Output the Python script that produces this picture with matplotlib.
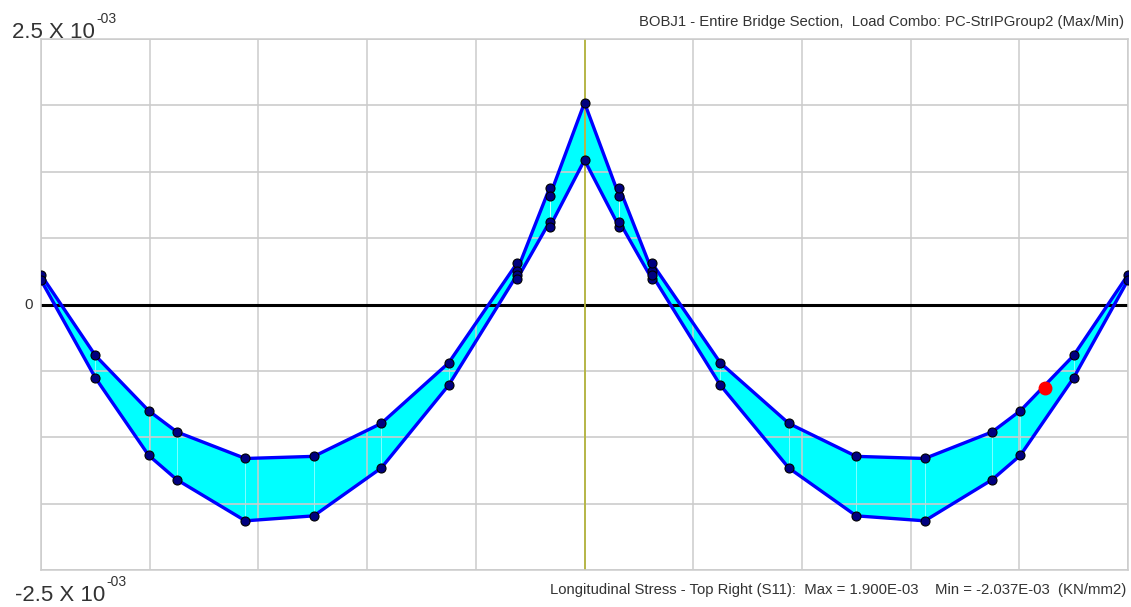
import numpy as np
import matplotlib.pyplot as plt
from matplotlib import font_manager

# police étroite si disponible
famille = 'DejaVu Sans'
for f in ['Liberation Sans Narrow', 'Liberation Sans']:
    try:
        font_manager.findfont(f, fallback_to_default=False)
        famille = f
        break
    except Exception:
        pass
plt.rcParams['font.family'] = [famille, 'DejaVu Sans']

# Données (x en divisions, contraintes en 1e-3 KN/mm2)
stations = [0.0, 0.50, 0.99, 1.25, 1.88, 2.51, 3.13, 3.75, 4.38, 4.38, 4.68, 4.68,
            5.0, 5.32, 5.32, 5.62, 5.62, 6.25, 6.88, 7.50, 8.13, 8.75, 9.01, 9.50, 10.0]
contrainte_max = [0.28, -0.48, -1.00, -1.20, -1.45, -1.43, -1.12, -0.55, 0.39, 0.32, 1.10, 1.02,
                  1.90, 1.02, 1.10, 0.32, 0.39, -0.55, -1.12, -1.43, -1.45, -1.20, -1.00, -0.48, 0.28]
contrainte_min = [0.23, -0.69, -1.42, -1.65, -2.037, -1.99, -1.54, -0.76, 0.28, 0.24, 0.78, 0.73,
                  1.36, 0.73, 0.78, 0.24, 0.28, -0.76, -1.54, -1.99, -2.037, -1.65, -1.42, -0.69, 0.23]
point_rouge = (9.24, -0.79)

x = np.array(stations)
smax = np.array(contrainte_max) * 1e-3
smin = np.array(contrainte_min) * 1e-3

fig = plt.figure(figsize=(11.31, 6.07), dpi=100)
ax = fig.add_axes([41 / 1131, 37 / 607, 1087 / 1131, 531 / 607])

ax.set_xlim(0, 10)
ax.set_ylim(-2.5e-3, 2.5e-3)
ax.set_xticks(np.arange(0, 11, 1))
ax.set_yticks(np.linspace(-2.5e-3, 2.5e-3, 9))
ax.grid(True, color='#cccccc', lw=1.1, zorder=0)
ax.tick_params(left=False, bottom=False, labelleft=False, labelbottom=False)
for s in ax.spines.values():
    s.set_color('#cccccc')
    s.set_linewidth(1.1)

# remplissage
ax.fill_between(x, smin, smax, color='#00ffff', lw=0, zorder=1)
ax.vlines(x, smin, smax, color='white', lw=0.7, alpha=0.5, zorder=1.5)
# grille légère par dessus
for yy in np.linspace(-2.5e-3, 2.5e-3, 9):
    ax.axhline(yy, color='#cccccc', lw=1.1, alpha=0.35, zorder=1.6)

ax.axhline(0, color='black', lw=2.2, zorder=2)
ax.axvline(5, color='#b4b43c', lw=1.3, zorder=2)

ax.plot(x, smax, color='#0000ff', lw=2.4, zorder=3)
ax.plot(x, smin, color='#0000ff', lw=2.4, zorder=3)
ax.plot(x, smax, 'o', ms=6.5, mfc='#000080', mec='black', mew=0.8, zorder=4)
ax.plot(x, smin, 'o', ms=6.5, mfc='#000080', mec='black', mew=0.8, zorder=4)
ax.plot(point_rouge[0], point_rouge[1] * 1e-3, 'o', ms=9, mfc='red', mec='red', zorder=5)

col = '#333333'
renderer = fig.canvas.get_renderer()


def etiquette(px, py, texte):
    t = fig.text(px / 1131, 1 - py / 607, texte, fontsize=16, color=col, va='baseline')
    bb = t.get_window_extent(renderer)
    fig.text(bb.x1 / 1131 + 1 / 1131, 1 - (py - 15) / 607, '-03', fontsize=10,
             color=col, va='baseline')


etiquette(12, 38, '2.5 X 10')
etiquette(15, 601, '-2.5 X 10')
fig.text(33 / 1131, 1 - 305 / 607, '0', fontsize=11, color=col, va='center', ha='right')

fig.text(1124 / 1131, 1 - 26 / 607,
         'BOBJ1 - Entire Bridge Section,  Load Combo: PC-StrIPGroup2 (Max/Min)',
         fontsize=10.7, color=col, ha='right', va='baseline')
fig.text(1126 / 1131, 1 - 594 / 607,
         'Longitudinal Stress - Top Right (S11):  Max = 1.900E-03    Min = -2.037E-03  (KN/mm2)',
         fontsize=10.7, color=col, ha='right', va='baseline')

fig.savefig('out.png', dpi=100)
